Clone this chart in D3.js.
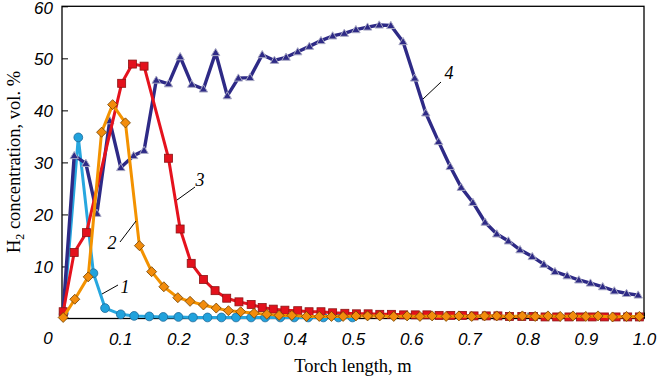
<!DOCTYPE html>
<html><head><meta charset="utf-8">
<script src="https://cdn.jsdelivr.net/npm/d3@7"></script>
<style>body{margin:0;background:#fff}svg{display:block}</style>
</head><body><svg id="c" width="658" height="379"></svg>
<script>
// ---- data ----
const xTicks = [0.1,0.2,0.3,0.4,0.5,0.6,0.7,0.8,0.9,1.0];
const xTickLabels = ["0.1","0.2","0.3","0.4","0.5","0.6","0.7","0.8","0.9","1.0"];
const yTicks = [10,20,30,40,50,60];
const yTickLabels = ["10","20","30","40","50","60"];

// series 1 (blue circles)
const s1x = [0.003,0.028,0.054,0.074,0.101,0.124,0.150,0.174,0.200,0.225,0.250,0.274,0.299,0.325,0.349,0.375,0.399,0.423,0.449,0.475,0.499];
const s1y = [1.0,34.8,8.7,2.0,0.8,0.5,0.4,0.3,0.3,0.2,0.2,0.2,0.2,0.2,0.2,0.2,0.2,0.2,0.2,0.2,0.2];
// series 2 (orange diamonds)
const s2x = [0.002,0.022,0.045,0.068,0.087,0.109,0.133,0.154,0.175,0.199,0.220,0.243,0.265,0.286,0.307,0.330,0.352,0.373,0.395,0.420,0.442,0.463,0.483,0.505,0.525,0.546,0.570,0.593,0.615,0.636,0.660,0.682,0.704,0.726,0.747,0.769,0.791,0.813,0.835,0.856,0.878,0.900,0.921,0.946,0.970,0.992];
const s2y = [0.2,3.7,8.0,35.8,41.1,37.6,14.0,9.0,6.1,4.0,3.3,2.6,2.0,1.5,1.3,1.0,0.8,0.6,0.6,0.4,0.4,0.4,0.4,0.5,0.5,0.5,0.4,0.5,0.4,0.5,0.4,0.5,0.4,0.5,0.5,0.4,0.5,0.4,0.5,0.4,0.5,0.4,0.5,0.3,0.4,0.4];
// series 3 (red squares)
const s3x = [0.002,0.021,0.042,0.1025,0.121,0.141,0.183,0.203,0.222,0.243,0.263,0.283,0.304,0.325,0.344,0.363,0.383,0.405,0.4245,0.445,0.465,0.486,0.506,0.526,0.546,0.566,0.587,0.607,0.627,0.648,0.668,0.688,0.708,0.729,0.749,0.769,0.790,0.810,0.830,0.850,0.871,0.891,0.911,0.932,0.952,0.972,0.992];
const s3y = [1.3,12.7,16.5,45.2,48.9,48.5,30.8,17.2,10.6,7.5,5.35,3.9,3.2,2.7,2.1,1.8,1.6,1.5,1.3,1.3,1.1,1.0,0.9,0.9,0.8,0.8,0.7,0.7,0.7,0.6,0.6,0.6,0.5,0.5,0.5,0.4,0.4,0.4,0.3,0.3,0.3,0.3,0.3,0.3,0.3,0.3,0.3];
// series 4 (purple triangles)
const s4x = [0.002,0.021,0.041,0.060,0.082,0.101,0.123,0.141,0.162,0.183,0.203,0.223,0.243,0.264,0.284,0.303,0.323,0.344,0.365,0.385,0.405,0.425,0.445,0.465,0.485,0.505,0.525,0.545,0.565,0.586,0.606,0.625,0.647,0.667,0.686,0.706,0.727,0.747,0.767,0.787,0.808,0.828,0.847,0.868,0.888,0.908,0.929,0.949,0.970,0.990];
const s4y = [1.3,31.3,29.8,20.2,38.0,29.0,31.3,32.3,45.8,45.1,50.3,45.0,44.1,51.1,42.8,46.2,46.3,50.7,49.6,50.2,51.25,52.3,53.4,54.3,54.8,55.5,56.0,56.4,56.3,53.2,46.2,39.5,34.0,29.2,25.2,22.3,18.5,16.25,14.9,13.2,11.9,10.4,9.0,8.2,7.4,6.8,6.1,5.3,4.8,4.5];

const seriesLabels = ["1","2","3","4"];

// ---- chart ----
const svg = d3.select("#c");
const x = d3.scaleLinear().domain([0,1]).range([62,644]);
const y = d3.scaleLinear().domain([0,60]).range([318.5,6.3]);

const zip = (xs,ys)=>xs.map((v,i)=>[v,ys[i]]);
const line = d3.line().x(d=>x(d[0])).y(d=>y(d[1]));

// frame
svg.append("rect").attr("x",62).attr("y",6.3).attr("width",582).attr("height",312.2)
  .attr("fill","none").attr("stroke","#000").attr("stroke-width",1.3);

// axes (inward ticks)
const xAxis = d3.axisBottom(x).tickValues(xTicks).tickSize(-6).tickFormat((d,i)=>xTickLabels[i]).tickPadding(14);
const gx = svg.append("g").attr("transform","translate(0,318.5)").call(xAxis);
gx.select(".domain").remove();
gx.selectAll("line").attr("stroke","#000").attr("stroke-width",1);
gx.selectAll("text").attr("font-family","'Liberation Sans', Arial, sans-serif").attr("font-style","italic")
  .attr("font-size",17).attr("fill","#000");

const yAxis = d3.axisLeft(y).tickValues(yTicks).tickSize(-6).tickFormat((d,i)=>yTickLabels[i]).tickPadding(14);
const gy = svg.append("g").attr("transform","translate(62,0)").call(yAxis);
gy.select(".domain").remove();
gy.selectAll("line").attr("stroke","#000").attr("stroke-width",1);
gy.selectAll("text").attr("font-family","'Liberation Sans', Arial, sans-serif").attr("font-style","italic")
  .attr("font-size",17).attr("fill","#000").attr("dx",5).attr("dy","0.36em");
gy.selectAll(".tick").filter(d=>d===60).select("text").attr("dy","0.45em");

// corner zero
svg.append("text").attr("x",48).attr("y",343.5).attr("text-anchor","middle")
  .attr("font-family","'Liberation Sans', Arial, sans-serif").attr("font-style","italic").attr("font-size",17).text("0");

// axis titles
svg.append("text").attr("x",353).attr("y",372).attr("text-anchor","middle")
  .attr("font-family","'Liberation Serif','Times New Roman',serif").attr("font-size",18.5).text("Torch length, m");
const yt = svg.append("text").attr("transform","translate(20,162) rotate(-90)").attr("text-anchor","middle")
  .attr("font-family","'Liberation Serif','Times New Roman',serif").attr("font-size",18.5);
yt.append("tspan").text("H");
yt.append("tspan").attr("font-size",12).attr("dy",4).text("2");
yt.append("tspan").attr("dy",-4).text(" concentration, vol. %");

// series drawing
const plot = svg.append("g");
function drawLine(data,color,w){
  plot.append("path").datum(data).attr("d",line).attr("fill","none").attr("stroke",color)
    .attr("stroke-width",w).attr("stroke-linejoin","round");
}
const d1 = zip(s1x,s1y), d2 = zip(s2x,s2y), d3d = zip(s3x,s3y), d4 = zip(s4x,s4y);

// blue
drawLine(d1,"#27a7df",3);
plot.append("g").selectAll("circle").data(d1).join("circle")
  .attr("cx",d=>x(d[0])).attr("cy",d=>y(d[1])).attr("r",4.4)
  .attr("fill","#21a2dc").attr("stroke","#1d6a9a").attr("stroke-width",0.8);
// purple
drawLine(d4,"#2e2a86",3.4);
plot.append("g").selectAll("path").data(d4).join("path")
  .attr("d","M0,-4.2L4.2,3L-4.2,3Z")
  .attr("transform",d=>`translate(${x(d[0])},${y(d[1])})`)
  .attr("fill","#2e2a86").attr("stroke","#a9a9c4").attr("stroke-width",1);
// red
drawLine(d3d,"#e5121d",3);
plot.append("g").selectAll("rect").data(d3d).join("rect")
  .attr("x",d=>x(d[0])-4).attr("y",d=>y(d[1])-4).attr("width",8).attr("height",8)
  .attr("fill","#e3111c").attr("stroke","#8c1515").attr("stroke-width",0.8);
// orange
drawLine(d2,"#f39200",3);
plot.append("g").selectAll("path").data(d2).join("path")
  .attr("d","M0,-5L5,0L0,5L-5,0Z")
  .attr("transform",d=>`translate(${x(d[0])},${y(d[1])})`)
  .attr("fill","#f28c0c").attr("stroke","#6e4000").attr("stroke-width",0.8);

// annotations
const ann = [
  {lab:seriesLabels[0], tx:125, ty:293, x1:102, y1:294, x2:118, y2:285},
  {lab:seriesLabels[1], tx:112, ty:249, x1:120, y1:242, x2:136, y2:221},
  {lab:seriesLabels[2], tx:200, ty:186, x1:177, y1:200, x2:195, y2:187},
  {lab:seriesLabels[3], tx:449, ty:79, x1:423, y1:99, x2:441, y2:82}
];
ann.forEach(a=>{
  svg.append("line").attr("x1",a.x1).attr("y1",a.y1).attr("x2",a.x2).attr("y2",a.y2)
    .attr("stroke","#000").attr("stroke-width",1);
  svg.append("text").attr("x",a.tx).attr("y",a.ty).attr("text-anchor","middle")
    .attr("font-family","'Liberation Serif','Times New Roman',serif").attr("font-style","italic")
    .attr("font-size",18).text(a.lab);
});
</script></body></html>
